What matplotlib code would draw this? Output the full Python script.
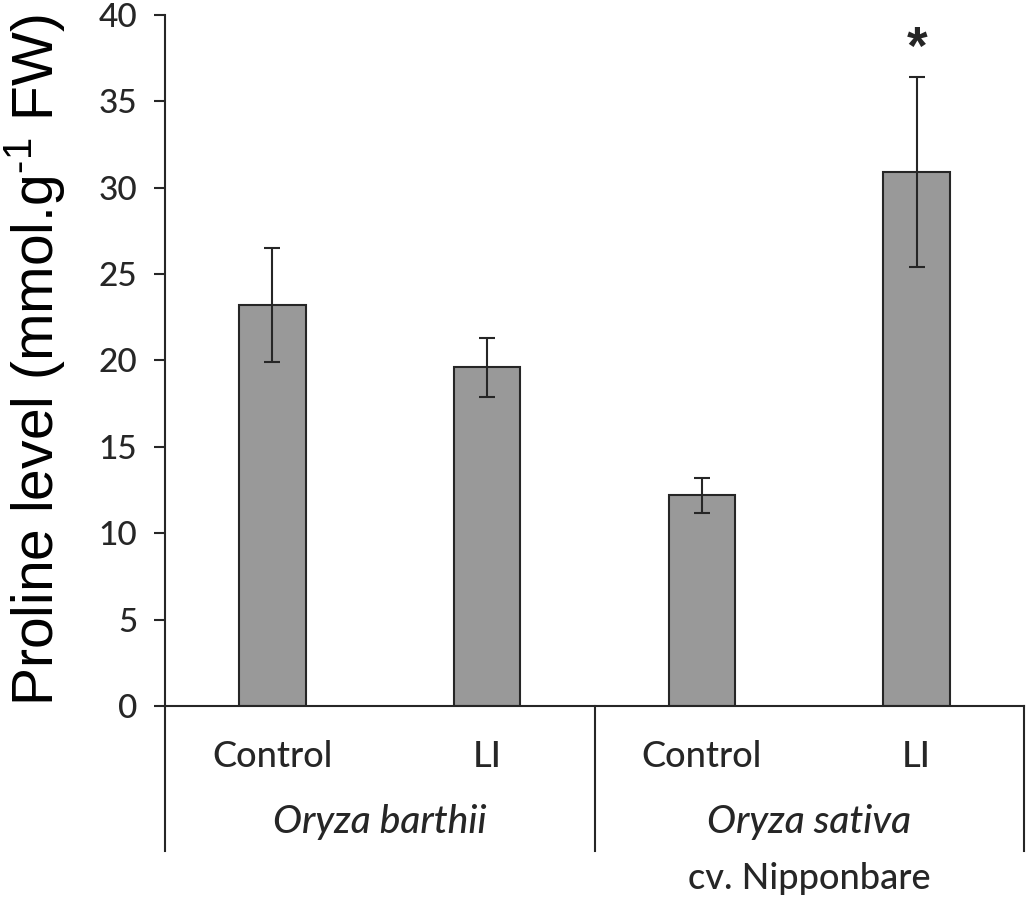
import matplotlib
matplotlib.use("Agg")
import matplotlib.pyplot as plt
import matplotlib.transforms as mtransforms

# values
treatments = ["Control", "LI", "Control", "LI"]
species = ["Oryza barthii", "Oryza sativa"]
cultivar = "cv. Nipponbare"
proline = [23.2, 19.6, 12.2, 30.9]
proline_err = [3.3, 1.7, 1.0, 5.5]
significant = [False, False, False, True]
yticks = [0, 5, 10, 15, 20, 25, 30, 35, 40]

plt.rcParams["mathtext.fontset"] = "custom"
plt.rcParams["mathtext.rm"] = "Liberation Sans"

dark = "#262626"
fig = plt.figure(figsize=(10.26, 9), dpi=100)
ax = fig.add_axes([165 / 1026, 1 - 706 / 900, 859 / 1026, 691 / 900])

x = list(range(len(proline)))
ax.bar(x, proline, width=0.31, color="#999999", edgecolor=dark, linewidth=1.5, zorder=2)
ax.errorbar(x, proline, yerr=proline_err, fmt="none", ecolor=dark,
            elinewidth=1.5, capsize=6, capthick=1.5, zorder=3)

for xi, v, e, s in zip(x, proline, proline_err, significant):
    if s:
        ax.text(xi, v + e + 1.6, "*", ha="center", va="center", fontsize=38,
                fontweight="bold", family="Liberation Sans", color=dark)

ax.set_xlim(-0.5, len(proline) - 0.5)
ax.set_ylim(0, 40)
ax.set_yticks(yticks)
ax.set_yticklabels([str(t) for t in yticks], family="Lato", fontsize=24,
                   fontweight=500, color=dark)
ax.set_xticks([])
ax.tick_params(axis="y", direction="out", length=8, width=1.5, color=dark, pad=12)

for side in ["top", "right"]:
    ax.spines[side].set_visible(False)
for side in ["left", "bottom"]:
    ax.spines[side].set_color(dark)
    ax.spines[side].set_linewidth(1.5)

ax.set_ylabel("Proline level (mmol.g$^{\\text{-1}}$ FW)", family="Liberation Sans",
              fontsize=41, color="black")
ax.yaxis.set_label_coords(-0.113, 0.5)

# category table under the axis
trans = mtransforms.blended_transform_factory(ax.transData, ax.transAxes)
for sep in [-0.5, 1.5, 3.5]:
    ax.plot([sep, sep], [0, -0.21], color=dark, lw=1.5, transform=trans, clip_on=False)

for xi, t in zip(x, treatments):
    ax.text(xi, -0.088, t, ha="center", va="baseline", family="Lato",
            fontsize=26, fontweight=500, color=dark, transform=trans)

for i, sp in enumerate(species):
    ax.text(2 * i + 0.5, -0.184, sp, ha="center", va="baseline", family="Lato",
            style="italic", fontsize=28, fontweight=500, color=dark, transform=trans)
ax.text(2.5, -0.265, cultivar, ha="center", va="baseline", family="Lato",
        fontsize=26, fontweight=500, color=dark, transform=trans)

fig.savefig("out.png", dpi=100)
